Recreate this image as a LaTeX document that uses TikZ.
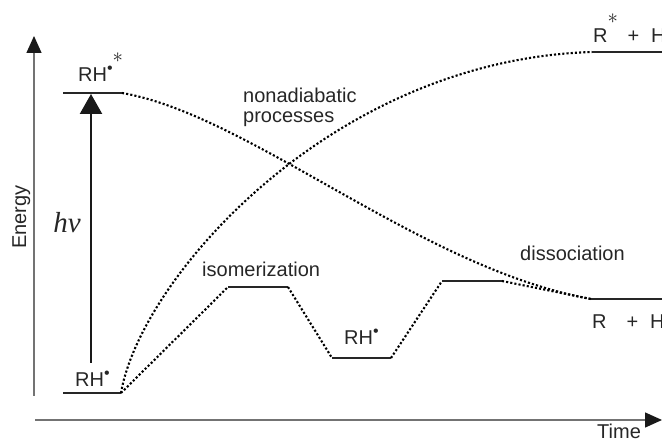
\documentclass[tikz,border=0pt]{standalone}
\usepackage{fontspec}
\setmainfont{Liberation Sans}
\newfontfamily\hvfont{Liberation Serif}
\usetikzlibrary{arrows.meta,positioning}
\newcommand{\rdot}{\raisebox{8pt}{\fontsize{16}{16}\selectfont •}}
\newcommand{\rstar}{\raisebox{19pt}{$\ast$}}

\begin{document}
\begin{tikzpicture}[
    x=1pt, y=-1pt,
    font=\fontsize{20}{20}\selectfont,
    level/.style={line width=2.4pt, black!85},
    trans/.style={line width=2.1pt, dash pattern=on 2.1pt off 2.1pt, black},
    axis/.style={line width=1.4pt, black!55, -{Triangle[length=17pt,width=15pt,color=black!90]}},
    lab/.style={inner sep=0pt, anchor=base west, text=black!85},
    excite/.style={line width=2.4pt, black!90, -{Triangle[length=20pt,width=22pt]}}
]
\useasboundingbox (0,0) rectangle (662,443);

% axes
\coordinate (eb) at (34,396);
\coordinate (et) at (34,36);
\coordinate (tl) at (35,420);
\coordinate (tr) at (662,420);
\draw[axis] (eb) -- (et);
\draw[axis] (tl) -- (tr);
\node[lab, anchor=base, rotate=90] (energy) at (26,217) {Energy};
\node[lab] (time) at (597,439) {Time};

% energy levels
\coordinate (ex-l) at (63,93);   \coordinate (ex-r) at (122,93);
\coordinate (gr-l) at (63,393);  \coordinate (gr-r) at (121,393);
\coordinate (is-l) at (228,287); \coordinate (is-r) at (288,287);
\coordinate (md-l) at (332,358); \coordinate (md-r) at (391,358);
\coordinate (up-l) at (442,281); \coordinate (up-r) at (502,281);
\coordinate (pr-l) at (592,52);  \coordinate (pr-r) at (662,52);
\coordinate (ds-l) at (591,299); \coordinate (ds-r) at (662,299);
\foreach \lv in {ex,gr,is,md,up,pr,ds}
    \draw[level] (\lv-l) -- (\lv-r);

% excitation
\coordinate (hv-b) at (91,363);
\coordinate (hv-t) at (91,94);
\draw[excite] (hv-b) -- (hv-t);
\node[lab, anchor=center] (hv) at (67,223) {\hvfont\fontsize{29}{29}\selectfont\itshape hν};

% transitions
\draw[trans] (ex-r) .. controls (250,115) and (420,268) .. (ds-l);
\draw[trans] (gr-r) .. controls (140,280) and (330,60) .. (pr-l);
\draw[trans] (gr-r) -- (is-l);
\draw[trans] (is-r) -- (md-l);
\draw[trans] (md-r) -- (up-l);
\draw[trans] (up-r) -- (ds-l);

% labels
\node[lab] (rhex) at (78,82) {RH\rdot\rstar};
\node[lab] (rhgr) at (75,387) {RH\rdot};
\node[lab] (rhmd) at (344,345) {RH\rdot};
\node[lab] (iso) at (202,277) {isomerization};
\node[lab] (diss) at (520,261) {dissociation};
\node[lab] (nonad) at (243,103) {nonadiabatic};
\node[lab] (proc) at (243,123) {processes};
\node[lab] (rstar) at (593,43) {R\rstar\hspace{4pt} +\hspace{12pt}H};
\node[lab] (rh) at (592,329) {R\hphantom{\rstar}\hspace{4pt} +\hspace{12pt}H};
\end{tikzpicture}
\end{document}
